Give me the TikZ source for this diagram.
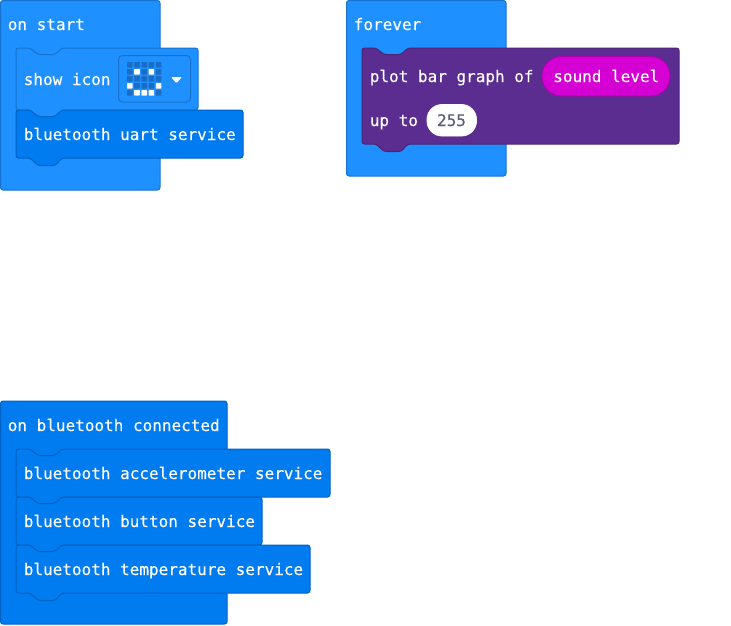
\documentclass[tikz,border=0pt]{standalone}
\usepackage{fontspec}
\setmonofont[FakeBold=0.2]{DejaVu Sans Mono}
\usepackage{tikz}
\usetikzlibrary{positioning,calc}

\definecolor{hatblue}{HTML}{1E90FF}
\definecolor{hatline}{HTML}{1873CC}
\definecolor{btblue}{HTML}{007BF0}
\definecolor{btline}{HTML}{0062C0}
\definecolor{ledoff}{HTML}{1A6DC4}
\definecolor{plotpurple}{HTML}{5C2D91}
\definecolor{plotline}{HTML}{4A2474}
\definecolor{soundpink}{HTML}{D400D4}
\definecolor{soundline}{HTML}{AA00AA}
\definecolor{numgrey}{HTML}{575E75}

% statement block with notch on top and bump below: x, y, width, height, style
\newcommand{\stmtblock}[5]{
  \draw[#5, rounded corners=2.5pt] (#1,#2) -- ++(14,0) -- ++(8,6.5) -- ++(17,0) -- ++(7,-6.5)
    -- ($(#1,#2)+(#3,0)$) -- ++(0,#4) -- ($(#1,#2)+(46,#4)$) -- ++(-7,7.5) -- ++(-17,0)
    -- ++(-8,-7.5) -- ($(#1,#2)+(0,#4)$) -- cycle;
}

\begin{document}
\begin{tikzpicture}[
    x=1pt, y=-1pt,
    hat/.style={draw=hatline, fill=hatblue, line width=1pt, rounded corners=2.5pt},
    bthat/.style={draw=btline, fill=btblue, line width=1pt, rounded corners=2.5pt},
    iconblk/.style={draw=hatline, fill=hatblue, line width=1pt},
    btblk/.style={draw=btline, fill=btblue, line width=1pt},
    plotblk/.style={draw=plotline, fill=plotpurple, line width=1pt},
    lbl/.style={font=\fontsize{16}{16}\selectfont\ttfamily, text=white, anchor=base west, inner sep=0pt},
    pill/.style={line width=0.8pt},
    ledcell/.style={fill=ledoff},
    ledlit/.style={fill=white}
  ]
  \useasboundingbox (0,0) rectangle (731,625);

  % on start
  \draw[hat] (0.5,0.5) rectangle (160,190);
  \node[lbl] (onstart) at (7.6,30) {on start};
  \stmtblock{16}{48}{182}{62}{iconblk}
  \node[lbl] (showicon) at (23.6,85) {show icon};
  \draw[draw=hatline, line width=1pt, rounded corners=4pt] (118.5,55.5) rectangle (190.5,102);
  \foreach \r in {0,...,4}
    \foreach \c in {0,...,4}
      \fill[ledcell, rounded corners=0.5pt] (127+7.2*\c,62+7*\r) rectangle ++(5.6,5.6);
  \foreach \c/\r in {1/1,3/1,0/3,4/3,1/4,2/4,3/4}
    \fill[ledlit, rounded corners=0.5pt] (127+7.2*\c,62+7*\r) rectangle ++(5.6,5.6);
  \fill[white, rounded corners=1pt] (171,77) -- (182,77) -- (176.5,83.2) -- cycle;
  \stmtblock{16}{110}{227}{48}{btblk}
  \node[lbl] (uart) at (23.6,140) {bluetooth uart service};

  % forever
  \draw[hat] (346.5,0.5) rectangle (506,176);
  \node[lbl] (forever) at (353.6,30) {forever};
  \stmtblock{362}{48}{317}{96}{plotblk}
  \node[lbl] (plotbar) at (369.6,82) {plot bar graph of};
  \node[lbl] (upto) at (369.6,126) {up to};
  \draw[pill, rounded corners=19pt, draw=soundline, fill=soundpink] (542,56.5) rectangle (670,96);
  \node[lbl] (sound) at (553.1,82) {sound level};
  \draw[pill, rounded corners=15pt, draw=white, fill=white] (427,104.5) rectangle (476.5,136);
  \node[lbl, text=numgrey, anchor=base] (num) at (451.5,126) {255};

  % on bluetooth connected
  \draw[bthat] (0.5,401) rectangle (227,624);
  \node[lbl] (onbt) at (7.6,431) {on bluetooth connected};
  \stmtblock{16}{449}{314}{48}{btblk}
  \node[lbl] (accel) at (23.6,479) {bluetooth accelerometer service};
  \stmtblock{16}{497}{246}{48}{btblk}
  \node[lbl] (button) at (23.6,527) {bluetooth button service};
  \stmtblock{16}{545}{294}{48}{btblk}
  \node[lbl] (temp) at (23.6,575) {bluetooth temperature service};
\end{tikzpicture}
\end{document}
